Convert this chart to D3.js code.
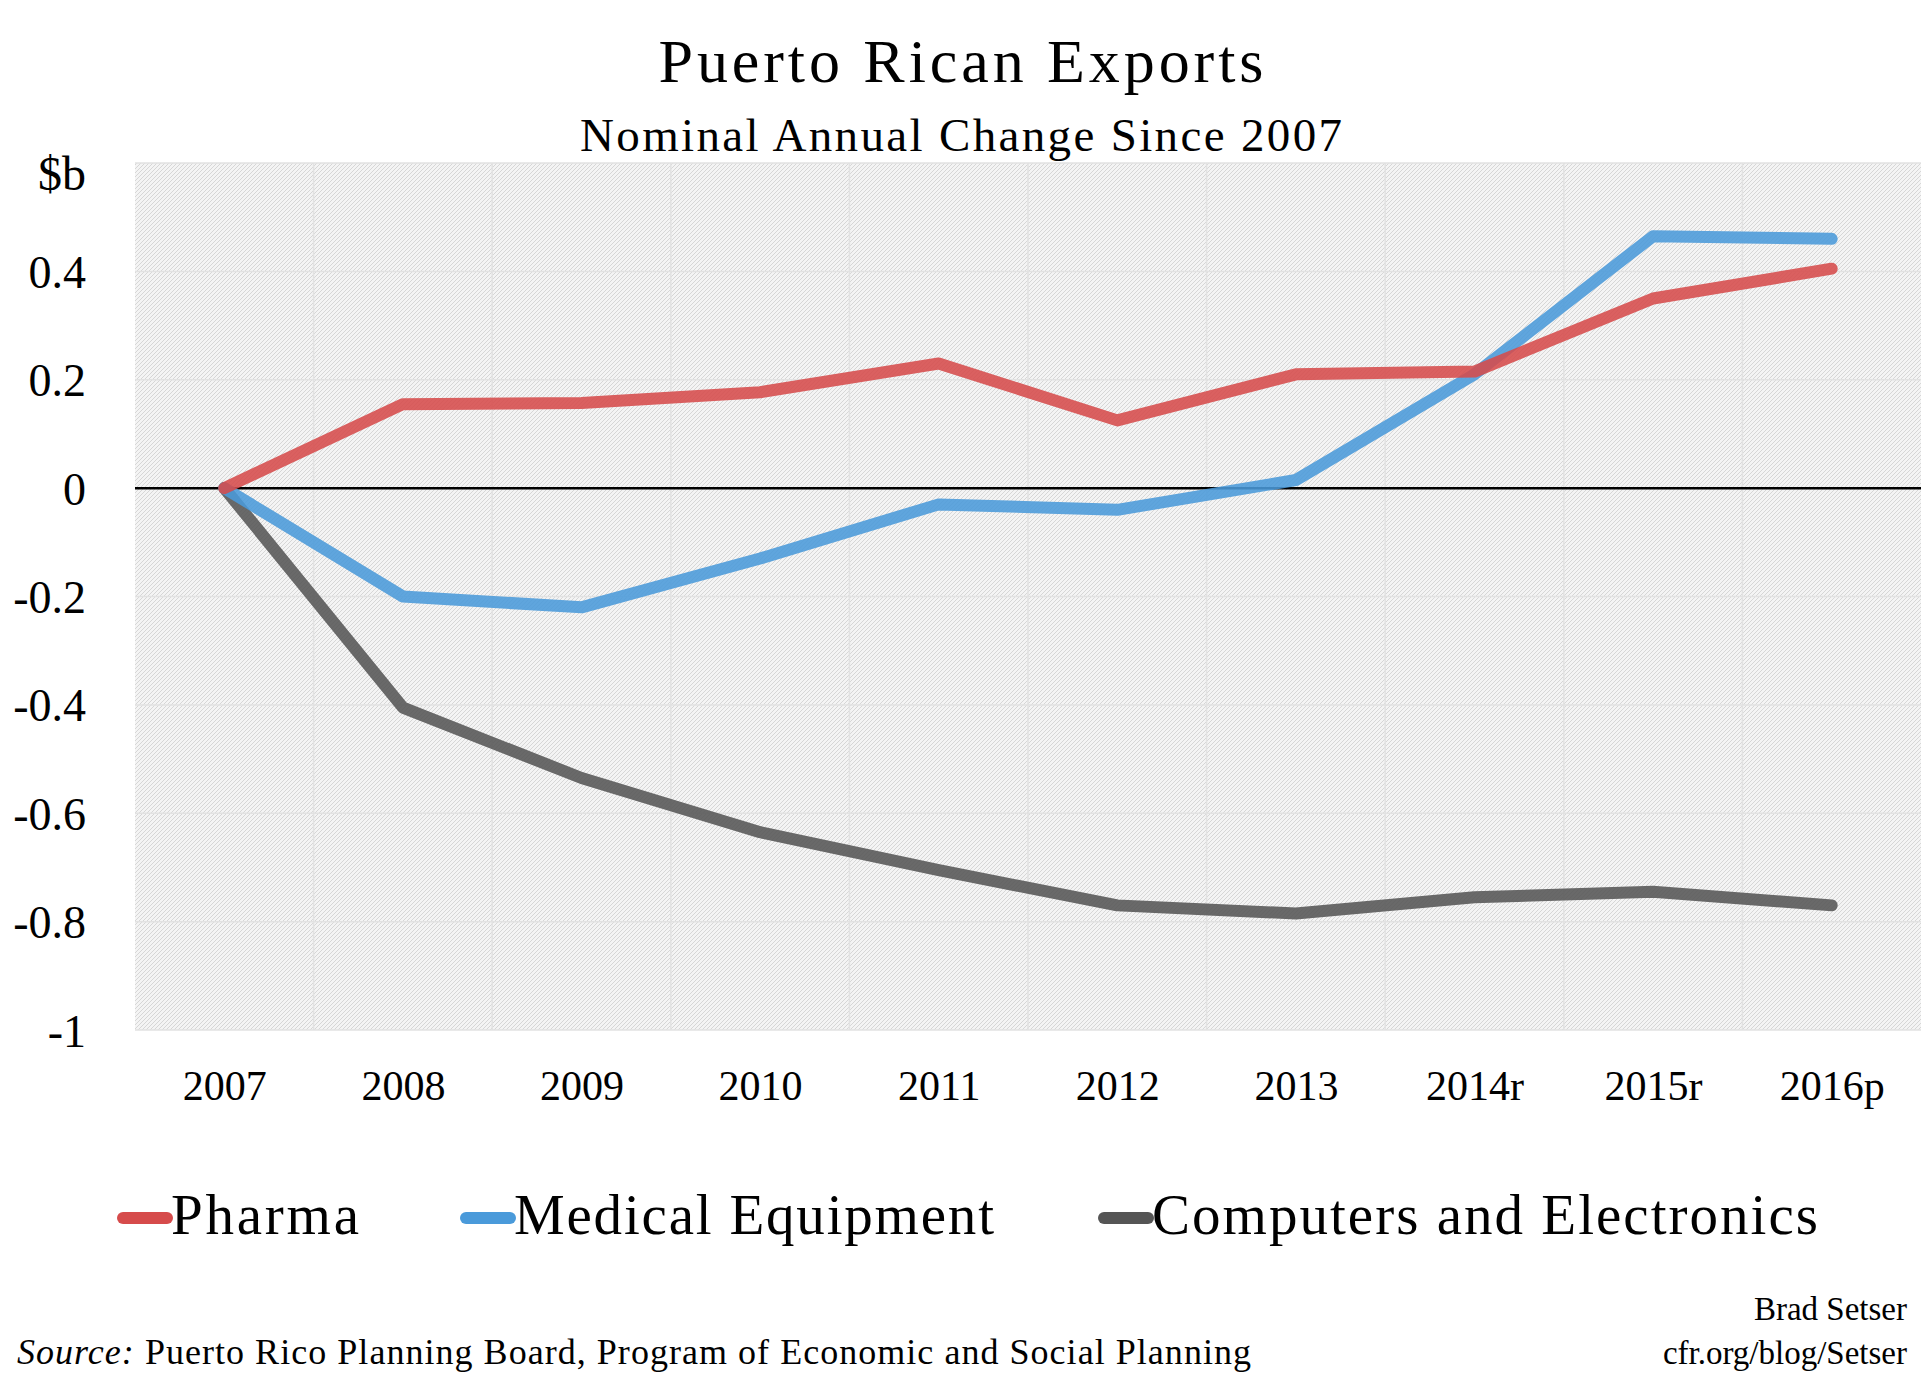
<!DOCTYPE html>
<html><head><meta charset="utf-8">
<script src="https://cdn.jsdelivr.net/npm/d3@7"></script>
<style>body{margin:0;background:#fff}svg{font-family:"Liberation Serif","DejaVu Serif",serif}</style>
</head><body><svg id="c" width="1923" height="1385"></svg>
<script>
const years = ["2007","2008","2009","2010","2011","2012","2013","2014r","2015r","2016p"];
const pharma = [0,0.155,0.157,0.177,0.23,0.125,0.21,0.215,0.35,0.405];
const medical = [0,-0.2,-0.22,-0.13,-0.03,-0.04,0.015,0.21,0.465,0.46];
const computers = [0,-0.405,-0.535,-0.635,-0.705,-0.77,-0.785,-0.755,-0.745,-0.77];
const yTicks = [-1,-0.8,-0.6,-0.4,-0.2,0,0.2,0.4];
const seriesNames = ["Pharma","Medical Equipment","Computers and Electronics"];
const colors = ["#d64b4b","#4a9ada","#555555"];

const svg = d3.select("#c");
const L=135,R=1921,T=163,B=1030;
const x = d3.scalePoint().domain(years).range([L,R]).padding(0.5);
const y = d3.scaleLinear().domain([-1,0.6]).range([B,T]);

const defs = svg.append("defs");
const pat = defs.append("pattern").attr("id","hatch").attr("width",4).attr("height",4)
  .attr("patternUnits","userSpaceOnUse");
pat.append("rect").attr("width",4).attr("height",4).attr("fill","#f4f4f4");
pat.append("path").attr("d","M-1,1 l2,-2 M0,4 l4,-4 M3,5 l2,-2").attr("stroke","#d6d6d6").attr("stroke-width",1);
svg.append("rect").attr("x",L).attr("y",T).attr("width",R-L).attr("height",B-T).attr("fill","url(#hatch)");

const step = x.step();
const g = svg.append("g");
years.forEach((d,i)=>{ if(i>0) g.append("line").attr("x1",x(d)-step/2).attr("x2",x(d)-step/2).attr("y1",T).attr("y2",B).attr("stroke","#e2e2e2").attr("stroke-width",1.5);});
[0.6,...yTicks].forEach(v=>g.append("line").attr("x1",L).attr("x2",R).attr("y1",y(v)).attr("y2",y(v)).attr("stroke","#e2e2e2").attr("stroke-width",1.5));
svg.append("line").attr("x1",L).attr("x2",R).attr("y1",y(0)).attr("y2",y(0)).attr("stroke","#000").attr("stroke-width",2.5);

const yAxis = d3.axisLeft(y).tickValues(yTicks).tickSize(0).tickPadding(0).tickFormat(d=>String(d));
const ya = svg.append("g").attr("transform","translate(86,0)").call(yAxis);
ya.select(".domain").remove();
ya.selectAll("text").attr("font-size",46).attr("fill","#000").attr("font-family","Liberation Serif").attr("dy","0.35em");
svg.append("text").attr("x",86).attr("y",190).attr("text-anchor","end").attr("font-size",48).text("$b");

const xAxis = d3.axisBottom(x).tickSize(0).tickPadding(0);
const xa = svg.append("g").attr("transform","translate(0,1100)").call(xAxis);
xa.select(".domain").remove();
xa.selectAll("text").attr("font-size",42).attr("fill","#000").attr("font-family","Liberation Serif").attr("dy",0);

const line = d3.line().x((d,i)=>x(years[i])).y(d=>y(d));
[computers,medical,pharma].forEach((s,k)=>{
  const c = colors[2-k];
  svg.append("path").datum(s).attr("d",line).attr("fill","none").attr("stroke",c)
    .attr("stroke-width",12).attr("stroke-linecap","round").attr("stroke-linejoin","round").attr("opacity",0.88);
});

svg.append("text").attr("x",961).attr("y",82).attr("text-anchor","middle").attr("font-size",62)
  .attr("textLength",605).attr("lengthAdjust","spacing").text("Puerto Rican Exports");
svg.append("text").attr("x",961).attr("y",151).attr("text-anchor","middle").attr("font-size",47)
  .attr("textLength",762).attr("lengthAdjust","spacing").text("Nominal Annual Change Since 2007");

const lx = [123,466,1104];
const lw = [188,480,666];
seriesNames.forEach((n,i)=>{
  svg.append("line").attr("x1",lx[i]).attr("x2",lx[i]+44).attr("y1",1218).attr("y2",1218)
    .attr("stroke",colors[i]).attr("stroke-width",12).attr("stroke-linecap","round");
  svg.append("text").attr("x",lx[i]+48).attr("y",1234).attr("font-size",57)
    .attr("textLength",lw[i]).attr("lengthAdjust","spacing").text(n);
});

const src = svg.append("text").attr("x",17).attr("y",1364).attr("font-size",36)
  .attr("textLength",1234).attr("lengthAdjust","spacing");
src.append("tspan").attr("font-style","italic").text("Source:");
src.append("tspan").text(" Puerto Rico Planning Board, Program of Economic and Social Planning");
svg.append("text").attr("x",1907).attr("y",1320).attr("text-anchor","end").attr("font-size",33).text("Brad Setser");
svg.append("text").attr("x",1907).attr("y",1364).attr("text-anchor","end").attr("font-size",33).text("cfr.org/blog/Setser");
</script></body></html>
